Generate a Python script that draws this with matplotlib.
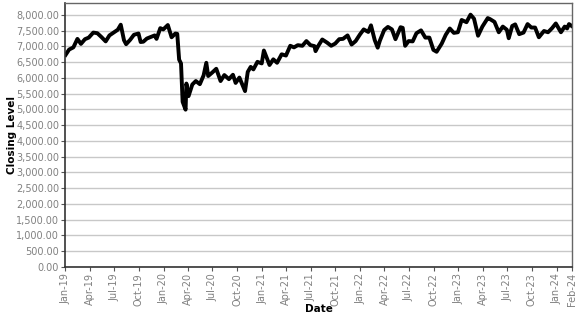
import matplotlib
matplotlib.use('Agg')
import matplotlib.pyplot as plt
import matplotlib.ticker as mticker
import pandas as pd

# closing levels (roughly twice a month)
dates = [
    '2019-01-02', '2019-01-15', '2019-01-31', '2019-02-15', '2019-02-28', '2019-03-15', '2019-03-29',
    '2019-04-15', '2019-04-30', '2019-05-15', '2019-05-31', '2019-06-14', '2019-06-28', '2019-07-15',
    '2019-07-26', '2019-08-07', '2019-08-15', '2019-08-30', '2019-09-13', '2019-09-30', '2019-10-08',
    '2019-10-18', '2019-10-31', '2019-11-15', '2019-11-29', '2019-12-06', '2019-12-20', '2019-12-31',
    '2020-01-17', '2020-01-31', '2020-02-14', '2020-02-21', '2020-02-28', '2020-03-06', '2020-03-12',
    '2020-03-16', '2020-03-23', '2020-03-26', '2020-04-03', '2020-04-17', '2020-04-30', '2020-05-15',
    '2020-05-29', '2020-06-08', '2020-06-15', '2020-06-30', '2020-07-15', '2020-07-31', '2020-08-14',
    '2020-08-31', '2020-09-15', '2020-09-25', '2020-10-09', '2020-10-30', '2020-11-09', '2020-11-20',
    '2020-11-30', '2020-12-15', '2020-12-31',
    '2021-01-08', '2021-01-29', '2021-02-12', '2021-02-26', '2021-03-15', '2021-03-31', '2021-04-16',
    '2021-04-30', '2021-05-14', '2021-05-31', '2021-06-15', '2021-06-30', '2021-07-15', '2021-07-19',
    '2021-07-30', '2021-08-13', '2021-08-31', '2021-09-15', '2021-09-30', '2021-10-15', '2021-10-29',
    '2021-11-15', '2021-11-30', '2021-12-15', '2021-12-31',
    '2022-01-14', '2022-01-31', '2022-02-10', '2022-02-24', '2022-03-07', '2022-03-15', '2022-03-31',
    '2022-04-14', '2022-04-29', '2022-05-12', '2022-05-31', '2022-06-08', '2022-06-17', '2022-06-30',
    '2022-07-15', '2022-07-29', '2022-08-15', '2022-08-31', '2022-09-15', '2022-09-30', '2022-10-12',
    '2022-10-31', '2022-11-15', '2022-11-30', '2022-12-15', '2022-12-30',
    '2023-01-13', '2023-01-31', '2023-02-15', '2023-02-28', '2023-03-15', '2023-03-31', '2023-04-20',
    '2023-04-28', '2023-05-15', '2023-05-31', '2023-06-15', '2023-06-30', '2023-07-07', '2023-07-20',
    '2023-07-31', '2023-08-15', '2023-08-31', '2023-09-15', '2023-09-29', '2023-10-13', '2023-10-27',
    '2023-11-15', '2023-11-30', '2023-12-15', '2023-12-29',
    '2024-01-17', '2024-01-31', '2024-02-09', '2024-02-16', '2024-02-29',
]
closing = [
    6730, 6900, 6970, 7240, 7080, 7230, 7280,
    7440, 7420, 7300, 7160, 7350, 7430, 7530,
    7690, 7200, 7070, 7210, 7370, 7410, 7140,
    7150, 7250, 7300, 7350, 7240, 7580, 7540,
    7680, 7290, 7410, 7400, 6580, 6460, 5240,
    5150, 4990, 5820, 5420, 5790, 5900, 5800,
    6080, 6480, 6060, 6170, 6290, 5900, 6090,
    5960, 6100, 5840, 6010, 5580, 6190, 6350,
    6270, 6510, 6460,
    6870, 6410, 6590, 6480, 6750, 6710, 7020,
    6970, 7040, 7020, 7170, 7040, 7010, 6850,
    7030, 7220, 7120, 7020, 7090, 7230, 7240,
    7350, 7060, 7170, 7380,
    7540, 7460, 7670, 7200, 6960, 7180, 7520,
    7620, 7540, 7230, 7610, 7590, 7020, 7170,
    7160, 7420, 7510, 7280, 7280, 6890, 6830,
    7090, 7370, 7570, 7430, 7450,
    7840, 7770, 8010, 7880, 7340, 7630, 7900,
    7870, 7780, 7450, 7630, 7530, 7260, 7650,
    7700, 7390, 7440, 7710, 7600, 7600, 7290,
    7490, 7450, 7580, 7730,
    7450, 7630, 7570, 7710, 7630,
]

tick_dates = list(pd.date_range('2019-01-01', '2024-01-01', freq='3MS')) + [pd.Timestamp('2024-02-29')]
tick_labels = [d.strftime('%b-%y') for d in tick_dates[:-1]] + ['Feb-24']

x = pd.to_datetime(dates)

fig = plt.figure(figsize=(5.77, 3.15), dpi=100)
ax = fig.add_axes([0.1132, 0.1533, 0.8790, 0.8362])

ax.plot(x, closing, color='black', lw=2.8, solid_joinstyle='round')

ax.set_xlim(pd.Timestamp('2019-01-01'), pd.Timestamp('2024-02-29'))
ax.set_ylim(0, 8370)
ax.set_yticks(range(0, 8001, 500))
ax.yaxis.set_major_formatter(mticker.FuncFormatter(lambda v, p: '{:,.2f}'.format(v)))
ax.set_xticks(tick_dates)
ax.set_xticklabels(tick_labels, rotation=90)

ax.grid(axis='y', color='#c8c8c8', lw=1)
ax.set_axisbelow(True)
ax.tick_params(labelsize=7, colors='#808080', length=3, width=0.8, pad=1.5)
ax.tick_params(axis='both', color='#555555')
for s in ['left', 'bottom']:
    ax.spines[s].set_color('#333333')
    ax.spines[s].set_linewidth(1.2)
for s in ['top', 'right']:
    ax.spines[s].set_color('#666666')
    ax.spines[s].set_linewidth(1.0)

ax.set_ylabel('Closing Level', fontsize=7.5, fontweight='bold')
ax.set_xlabel('Date', fontsize=7.5, fontweight='bold')
ax.yaxis.set_label_coords(-0.095, 0.5)
ax.xaxis.set_label_coords(0.5, -0.14)

fig.savefig('out.png', dpi=100)
